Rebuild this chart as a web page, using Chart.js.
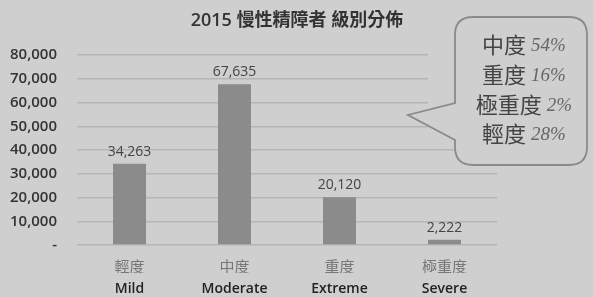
<!DOCTYPE html>
<html>
<head>
<meta charset="utf-8">
<script src="https://cdn.jsdelivr.net/npm/chart.js@4"></script>
<style>
  html, body { margin: 0; padding: 0; background: #cfcfcf; }
  #wrap { width: 593px; height: 297px; }
</style>
</head>
<body>
<div id="wrap"><canvas id="chart" width="593" height="297"></canvas></div>
<script>
// chart data
const titleText = '2015 慢性精障者 級別分佈'
const labelsZh = ['輕度', '中度', '重度', '極重度']
const labelsEn = ['Mild', 'Moderate', 'Extreme', 'Severe']
const counts = [34263, 67635, 20120, 2222]
const yTicks = [0, 10000, 20000, 30000, 40000, 50000, 60000, 70000, 80000]

// text in the speech bubble
const bubbleNames = ['中度', '重度', '極重度', '輕度']
const bubbleShares = ['54%', '16%', '2%', '28%']

const BG = '#cfcfcf'
const fmt = v => v === 0 ? '-' : v.toLocaleString('en-US')

// value labels above the bars
const valueLabels = {
  id: 'valueLabels',
  afterDatasetsDraw(chart) {
    const ctx = chart.ctx
    const meta = chart.getDatasetMeta(0)
    ctx.save()
    ctx.font = '14px "Open Sans", sans-serif'
    ctx.fillStyle = '#444'
    ctx.textAlign = 'center'
    ctx.textBaseline = 'bottom'
    meta.data.forEach((bar, i) => {
      ctx.fillText(counts[i].toLocaleString('en-US'), bar.x, bar.y - 5)
    })
    ctx.restore()
  }
}

// title is centred on the whole picture, not on the plot
const titlePlugin = {
  id: 'pageTitle',
  afterDraw(chart) {
    const ctx = chart.ctx
    ctx.save()
    ctx.font = '600 18px "Open Sans", "Noto Sans CJK TC", sans-serif'
    ctx.fillStyle = '#333'
    ctx.textAlign = 'center'
    ctx.textBaseline = 'middle'
    ctx.fillText(titleText, 297, 21)
    ctx.restore()
  }
}

// the callout bubble at the top right
const bubble = {
  id: 'bubble',
  beforeDatasetsDraw(chart) {
    // upper grid lines stop short of the bubble in the original
    const ctx = chart.ctx
    ctx.save()
    ctx.fillStyle = BG
    ctx.fillRect(428, 40, 80, 100)
    ctx.restore()
  },
  afterDraw(chart) {
    const ctx = chart.ctx
    const l = 455, t = 17, r = 587, b = 165, rad = 18
    ctx.save()
    ctx.beginPath()
    ctx.moveTo(l + rad, t)
    ctx.lineTo(r - rad, t)
    ctx.quadraticCurveTo(r, t, r, t + rad)
    ctx.lineTo(r, b - rad)
    ctx.quadraticCurveTo(r, b, r - rad, b)
    ctx.lineTo(l + rad, b)
    ctx.quadraticCurveTo(l, b, l, b - rad)
    ctx.lineTo(l, 140)
    ctx.lineTo(408, 115)
    ctx.lineTo(l, 103)
    ctx.lineTo(l, t + rad)
    ctx.quadraticCurveTo(l, t, l + rad, t)
    ctx.closePath()
    ctx.fillStyle = BG
    ctx.fill()
    ctx.strokeStyle = '#8a8a8a'
    ctx.lineWidth = 1.8
    ctx.stroke()

    ctx.textBaseline = 'middle'
    const cx = 524
    const ys = [45, 75, 105, 134]
    bubbleNames.forEach((name, i) => {
      ctx.font = '22px "Noto Sans CJK TC", sans-serif'
      const w1 = ctx.measureText(name + ' ').width
      ctx.font = 'italic 19px "Liberation Serif", serif'
      const w2 = ctx.measureText(bubbleShares[i]).width
      const x0 = cx - (w1 + w2) / 2
      ctx.textAlign = 'left'
      ctx.font = '22px "Noto Sans CJK TC", sans-serif'
      ctx.fillStyle = '#444'
      ctx.fillText(name + ' ', x0, ys[i])
      ctx.font = 'italic 19px "Liberation Serif", serif'
      ctx.fillStyle = '#666'
      ctx.fillText(bubbleShares[i], x0 + w1, ys[i] + 1)
    })
    ctx.restore()
  }
}

const bgPlugin = {
  id: 'bg',
  beforeDraw(chart) {
    const ctx = chart.ctx
    ctx.save()
    ctx.fillStyle = BG
    ctx.fillRect(0, 0, chart.width, chart.height)
    ctx.restore()
  }
}

new Chart(document.getElementById('chart'), {
  type: 'bar',
  data: {
    labels: labelsZh,
    datasets: [{
      data: counts,
      backgroundColor: '#8b8b8b',
      categoryPercentage: 1,
      barPercentage: 0.314
    }]
  },
  plugins: [bgPlugin, valueLabels, bubble, titlePlugin],
  options: {
    responsive: false,
    animation: false,
    layout: { padding: { left: 0, right: 96, top: 55, bottom: 0 } },
    plugins: {
      legend: { display: false },
      tooltip: { enabled: false },
      title: { display: false }
    },
    scales: {
      x: {
        grid: { display: false },
        border: { display: false },
        ticks: {
          color: '#777',
          font: { family: '"Noto Sans CJK TC", sans-serif', size: 15 },
          padding: 4
        },
        afterFit(scale) { scale.height = 28 }
      },
      x2: {
        type: 'category',
        labels: labelsEn,
        position: 'bottom',
        grid: { display: false },
        border: { display: false },
        ticks: {
          color: '#222',
          font: { family: '"Open Sans", sans-serif', size: 14, weight: '600' },
          padding: 0
        },
        afterFit(scale) { scale.height = 24 }
      },
      y: {
        min: 0,
        max: 80000,
        afterBuildTicks(scale) { scale.ticks = yTicks.map(v => ({ value: v })) },
        grid: { color: '#b5b5b5', lineWidth: 1.5, drawTicks: false },
        border: { display: false },
        ticks: {
          color: '#333',
          font: { family: '"Open Sans", sans-serif', size: 15, weight: '600' },
          padding: 20,
          callback: v => fmt(v)
        },
        afterFit(scale) { scale.width = 77 }
      }
    }
  }
})
</script>
</body>
</html>
